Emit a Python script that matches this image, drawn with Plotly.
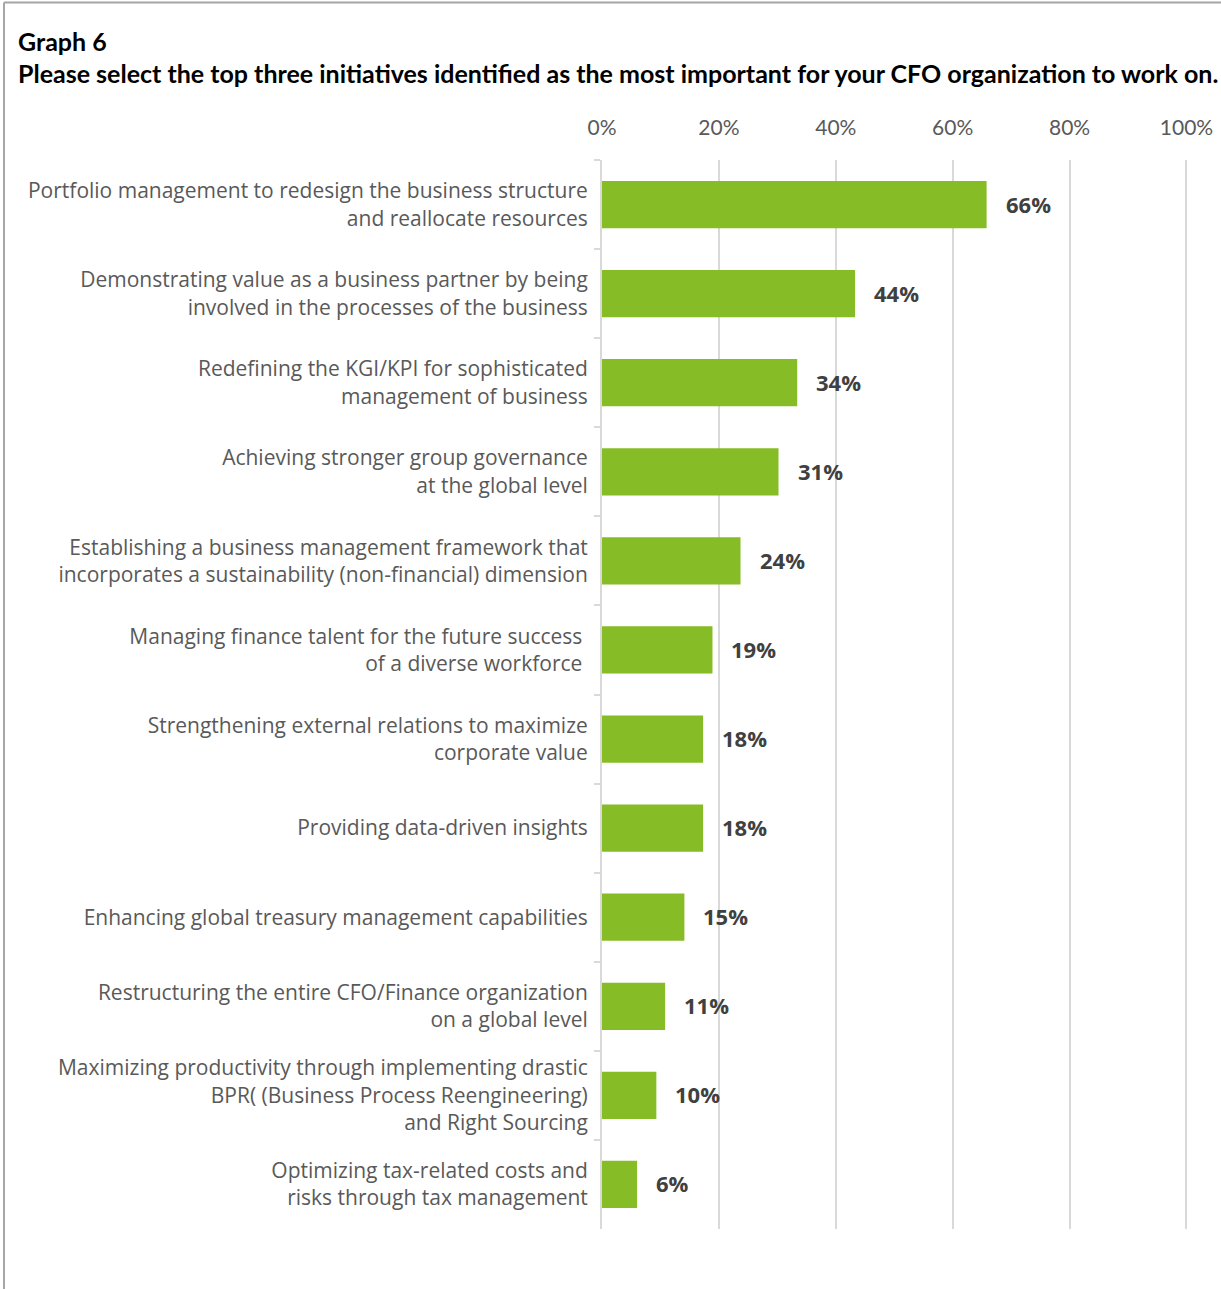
import plotly.graph_objects as go

categories = [
    "Portfolio management to redesign the business structure<br>and reallocate resources",
    "Demonstrating value as a business partner by being<br>involved in the processes of the business",
    "Redefining the KGI/KPI for sophisticated<br>management of business",
    "Achieving stronger group governance<br>at the global level",
    "Establishing a business management framework that<br>incorporates a sustainability (non-financial) dimension",
    "Managing finance talent for the future success <br>of a diverse workforce ",
    "Strengthening external relations to maximize<br>corporate value",
    "Providing data-driven insights",
    "Enhancing global treasury management capabilities",
    "Restructuring the entire CFO/Finance organization<br>on a global level",
    "Maximizing productivity through implementing drastic<br>BPR( (Business Process Reengineering)<br>and Right Sourcing",
    "Optimizing tax-related costs and<br>risks through tax management",
]
values = [0.658, 0.433, 0.334, 0.302, 0.237, 0.189, 0.173, 0.173, 0.141, 0.108, 0.093, 0.06]
labels = ["66%", "44%", "34%", "31%", "24%", "19%", "18%", "18%", "15%", "11%", "10%", "6%"]
tick_vals = [0, 0.2, 0.4, 0.6, 0.8, 1.0]
tick_text = ["0%", "20%", "40%", "60%", "80%", "100%"]

W, H = 1221, 1289
XMAX = 1.006
L, T, B = 602, 160, 1229
R = round(L + 584 * XMAX)

fig = go.Figure()
fig.add_trace(go.Bar(
    x=values, y=categories, orientation="h",
    marker=dict(color="#86BC25", line=dict(width=0)),
    width=0.53, hoverinfo="skip",
))

for v, lab, c in zip(values, labels, categories):
    fig.add_annotation(x=v, y=c, xref="x", yref="y", text="<b>" + lab + "</b>",
                       showarrow=False, xanchor="left", yanchor="middle", xshift=17, yshift=1,
                       font=dict(family="Open Sans", size=22, color="#404040"))

pw, ph = R - L, B - T
def px(xp):
    return (xp - L) / pw
def py(yp):
    return (B - yp) / ph

fig.add_annotation(x=px(16), y=py(41), xref="paper", yref="paper", text="<b>Graph 6</b>",
                   showarrow=False, xanchor="left", yanchor="middle",
                   font=dict(family="Lato", size=25, color="#000000"))
fig.add_annotation(x=px(16), y=py(73), xref="paper", yref="paper",
                   text="<b>Please select the top three initiatives identified as the most important for your CFO organization to work on.</b>",
                   showarrow=False, xanchor="left", yanchor="middle",
                   font=dict(family="Lato", size=25, color="#000000"))

# outer frame (left and top edges visible)
fig.add_shape(type="line", xref="paper", yref="paper", x0=px(4), x1=px(1240), y0=py(2.5), y1=py(2.5),
              line=dict(color="#a6a6a6", width=2))
fig.add_shape(type="line", xref="paper", yref="paper", x0=px(4), x1=px(4), y0=py(2.5), y1=py(1300),
              line=dict(color="#a6a6a6", width=2))

fig.update_layout(
    width=W, height=H,
    margin=dict(l=L, r=W - R, t=T, b=H - B, autoexpand=False),
    paper_bgcolor="white", plot_bgcolor="white",
    showlegend=False,
    bargap=0.47,
    xaxis=dict(side="top", range=[0, XMAX], tickvals=tick_vals, ticktext=tick_text,
               showgrid=True, gridcolor="#d9d9d9", gridwidth=2, zeroline=False,
               showline=False, ticks="", ticklabelstandoff=20, automargin=False,
               tickfont=dict(family="Lato", size=21, color="#595959"), fixedrange=True),
    yaxis=dict(autorange="reversed", type="category", tickson="boundaries",
               ticks="outside", ticklen=6, tickcolor="#d9d9d9", tickwidth=2,
               showline=True, linecolor="#d9d9d9", linewidth=2, showgrid=False,
               ticklabelstandoff=8, automargin=False,
               tickfont=dict(family="Open Sans", size=21, color="#595959"), fixedrange=True),
)

fig.write_html("out.html", config={"displayModeBar": False})
